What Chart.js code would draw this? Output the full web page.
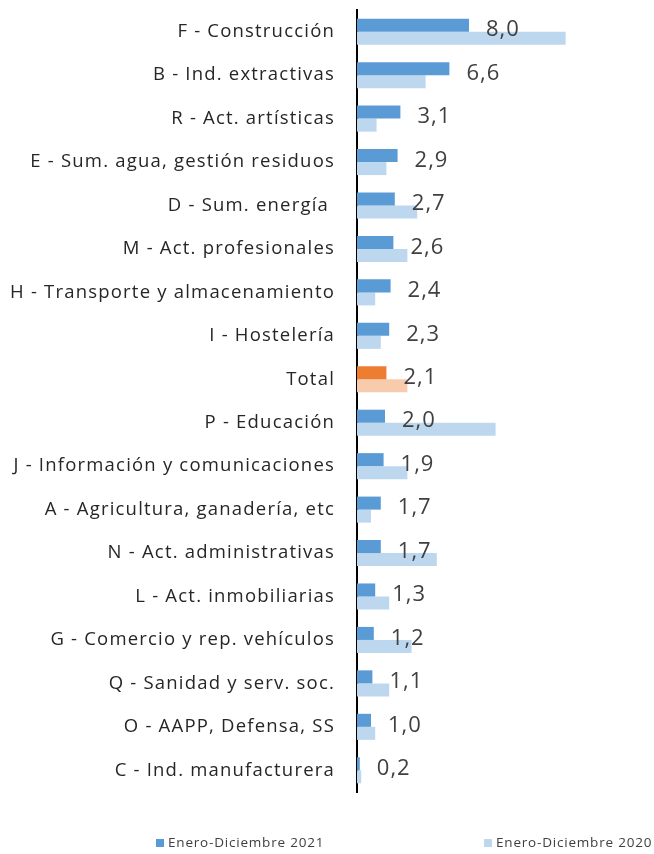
<!DOCTYPE html>
<html>
<head>
<meta charset="utf-8">
<script src="https://cdn.jsdelivr.net/npm/chart.js@4/dist/chart.umd.min.js"></script>
<style>
  html,body{margin:0;padding:0;background:#fff;}
  #wrap{position:relative;width:654px;height:854px;}
  .lg{position:absolute;top:833px;font-family:"Open Sans", Lato, sans-serif;font-size:13.5px;letter-spacing:0.8px;color:#404040;white-space:nowrap;}
  .lg span{display:inline-block;width:8px;height:8px;margin-right:4px;vertical-align:0px;}
</style>
</head>
<body>
<div id="wrap">
<canvas id="c" width="654" height="854"></canvas>
<div class="lg" id="lg0" style="left:156px"></div>
<div class="lg" id="lg1" style="left:484px"></div>
</div>
<script>
const categories = [
  "F - Construcción","B - Ind. extractivas","R - Act. artísticas","E - Sum. agua, gestión residuos",
  "D - Sum. energía ","M - Act. profesionales","H - Transporte y almacenamiento","I - Hostelería",
  "Total","P - Educación","J - Información y comunicaciones","A - Agricultura, ganadería, etc",
  "N - Act. administrativas","L - Act. inmobiliarias","G - Comercio y rep. vehículos",
  "Q - Sanidad y serv. soc.","O - AAPP, Defensa, SS","C - Ind. manufacturera"
];
const seriesNames = ["Enero-Diciembre 2021","Enero-Diciembre 2020"];
const values2021 = [8.0,6.6,3.1,2.9,2.7,2.6,2.4,2.3,2.1,2.0,1.9,1.7,1.7,1.3,1.2,1.1,1.0,0.2];
const values2020 = [14.9,4.9,1.4,2.1,4.3,3.6,1.3,1.7,3.6,9.9,3.6,1.0,5.7,2.3,3.9,2.3,1.3,0.3];
const highlightCategory = "Total";

const c2021 = categories.map(c => c === highlightCategory ? "#ED7D31" : "#5B9BD5");
const c2020 = categories.map(c => c === highlightCategory ? "#F8CBAD" : "#BDD7EE");

const spacingPlugin = {
  id: 'spacing',
  beforeUpdate(chart) { chart.ctx.letterSpacing = '1.2px'; },
  beforeDraw(chart) { chart.ctx.letterSpacing = '1.2px'; }
};

const labelPlugin = {
  id: 'valLabels',
  afterDatasetsDraw(chart) {
    const ctx = chart.ctx;
    const meta = chart.getDatasetMeta(0);
    ctx.save();
    ctx.letterSpacing = '1px';
    ctx.font = '22px "Open Sans", Lato, sans-serif';
    ctx.fillStyle = '#404040';
    ctx.textAlign = 'left';
    ctx.textBaseline = 'middle';
    meta.data.forEach((el, i) => {
      const txt = values2021[i].toFixed(1).replace('.', ',');
      ctx.fillText(txt, el.x + 17, el.y + 5);
    });
    ctx.restore();
  }
};

new Chart(document.getElementById('c'), {
  type: 'bar',
  data: {
    labels: categories,
    datasets: [
      {label: seriesNames[0], data: values2021, backgroundColor: c2021, categoryPercentage: 0.6, barPercentage: 1.0},
      {label: seriesNames[1], data: values2020, backgroundColor: c2020, categoryPercentage: 0.6, barPercentage: 1.0}
    ]
  },
  options: {
    indexAxis: 'y',
    responsive: false,
    animation: false,
    layout: {padding: {top: 10, bottom: 62, right: 17, left: 0}},
    plugins: {legend: {display: false}, tooltip: {enabled: false}},
    scales: {
      x: {display: false, min: 0, max: 20},
      y: {
        grid: {display: false, drawTicks: false},
        border: {display: true, color: '#000', width: 2},
        ticks: {font: {family: '"Open Sans", Lato, sans-serif', size: 18.5}, color: '#262626', padding: 22},
        afterFit(scale) { scale.width = 357; scale.paddingTop = 0; scale.paddingBottom = 0; }
      }
    }
  },
  plugins: [spacingPlugin, labelPlugin]
});

[0,1].forEach(i => {
  const d = document.getElementById('lg' + i);
  d.innerHTML = '<span style="background:' + (i === 0 ? '#5B9BD5' : '#BDD7EE') + '"></span>' + seriesNames[i];
});
</script>
</body>
</html>
